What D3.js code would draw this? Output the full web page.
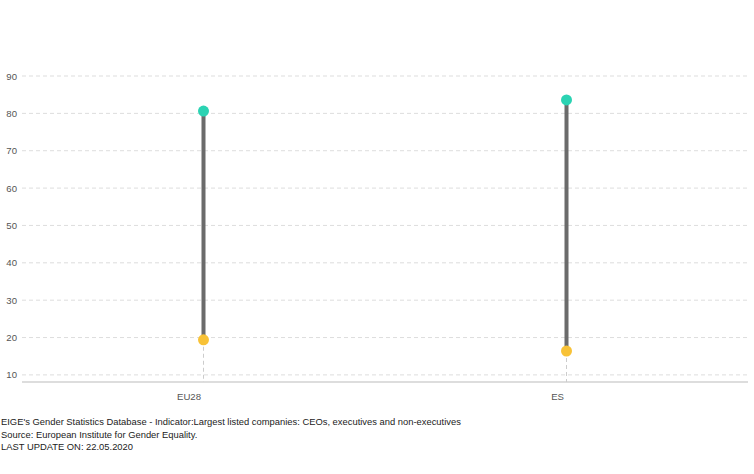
<!DOCTYPE html>
<html><head><meta charset="utf-8">
<script src="https://cdn.jsdelivr.net/npm/d3@7"></script>
<style>
html,body{margin:0;padding:0;background:#fff;}
svg text{font-family:"Liberation Sans",Arial,Helvetica,sans-serif;}
</style></head>
<body><svg id="chart" width="754" height="474"></svg>
<script>
const categories = ["EU28", "ES"];
const menValues = [80.6, 83.6];
const womenValues = [19.4, 16.4];
const yTicks = [10, 20, 30, 40, 50, 60, 70, 80, 90];
const footerLines = [
  "EIGE's Gender Statistics Database - Indicator:Largest listed companies: CEOs, executives and non-executives",
  "Source: European Institute for Gender Equality.",
  "LAST UPDATE ON: 22.05.2020"
];

(function () {
const svg = d3.select("#chart");
const mLeft = 22, mRight = 748, mTop = 76, mBottom = 382;
const x = d3.scalePoint().domain(categories).range([mLeft, mRight]).padding(0.5);
const y = d3.scaleLinear().domain([8.1, 90]).range([mBottom, mTop]);

// grid
const yAxis = d3.axisLeft(y).tickValues(yTicks).tickSize(0).tickPadding(5);
const gy = svg.append("g").attr("transform", `translate(${mLeft},0)`).call(yAxis);
gy.select(".domain").remove();
gy.selectAll("text").attr("fill", "#555").attr("font-size", "9.6px");
svg.append("g").selectAll("line").data(yTicks).join("line")
  .attr("x1", mLeft).attr("x2", mRight)
  .attr("y1", d => y(d)).attr("y2", d => y(d))
  .attr("stroke", "#ddd").attr("stroke-width", 1).attr("stroke-dasharray", "4,3");

// baseline
svg.append("line").attr("x1", mLeft).attr("x2", mRight).attr("y1", mBottom).attr("y2", mBottom)
  .attr("stroke", "#bbb").attr("stroke-width", 1);

// x axis
const xAxis = d3.axisBottom(x).tickSize(0).tickPadding(11);
const gx = svg.append("g").attr("transform", `translate(0,${mBottom})`).call(xAxis);
gx.select(".domain").remove();
gx.selectAll("text").attr("fill", "#555").attr("font-size", "9.6px")
  .attr("text-anchor", "end").attr("dx", "-3");

const data = categories.map((c, i) => ({c, men: menValues[i], women: womenValues[i]}));

// dashed vertical from low dot to axis
svg.append("g").selectAll("line").data(data).join("line")
  .attr("x1", d => x(d.c)).attr("x2", d => x(d.c))
  .attr("y1", d => y(d.women)).attr("y2", mBottom)
  .attr("stroke", "#ccc").attr("stroke-width", 1).attr("stroke-dasharray", "4,3");

// stems
svg.append("g").selectAll("line").data(data).join("line")
  .attr("x1", d => x(d.c)).attr("x2", d => x(d.c))
  .attr("y1", d => y(d.men)).attr("y2", d => y(d.women))
  .attr("stroke", "#6b6b6b").attr("stroke-width", 4);

svg.append("g").selectAll("circle").data(data).join("circle")
  .attr("cx", d => x(d.c)).attr("cy", d => y(d.men)).attr("r", 5.5).attr("fill", "#2bd3b3");
svg.append("g").selectAll("circle").data(data).join("circle")
  .attr("cx", d => x(d.c)).attr("cy", d => y(d.women)).attr("r", 5.5).attr("fill", "#f8c237");

// footer
svg.append("g").selectAll("text").data(footerLines).join("text")
  .attr("x", 1).attr("y", (d, i) => 425 + i * 12.5)
  .attr("font-size", "9.4px").attr("fill", "#222").text(d => d);
})();
</script></body></html>
